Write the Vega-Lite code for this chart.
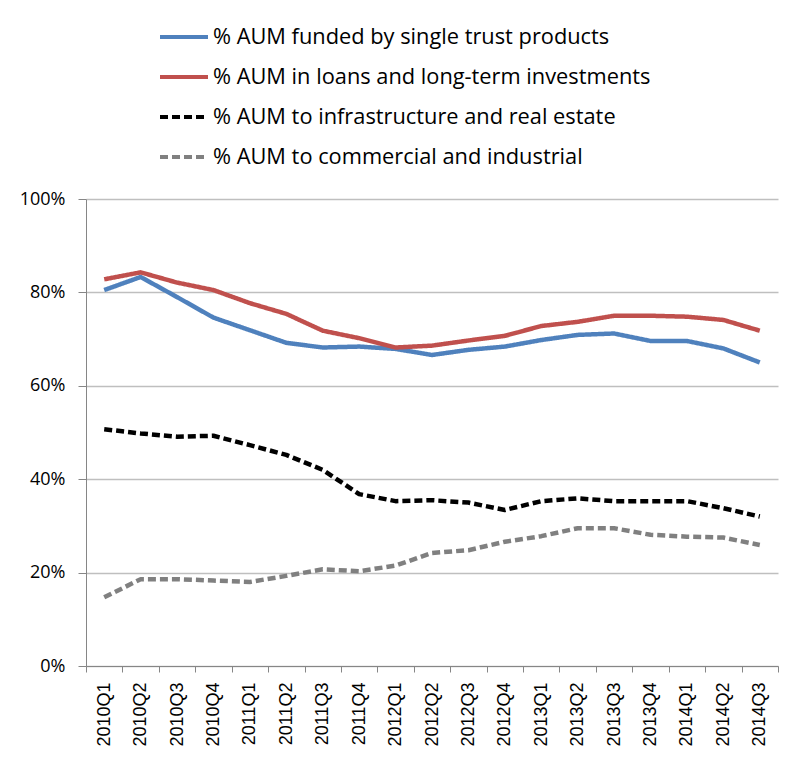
{
  "$schema": "https://vega.github.io/schema/vega-lite/v6.json",
  "autosize": {"type": "none"},
  "padding": {"left": 86, "top": 199, "right": 7, "bottom": 93},
  "width": 692,
  "height": 467,
  "background": "white",
  "data": {
    "values": [
      {"q": "2010Q1", "s": "% AUM funded by single trust products", "v": 80.5},
      {"q": "2010Q2", "s": "% AUM funded by single trust products", "v": 83.3},
      {"q": "2010Q3", "s": "% AUM funded by single trust products", "v": 79.0},
      {"q": "2010Q4", "s": "% AUM funded by single trust products", "v": 74.6},
      {"q": "2011Q1", "s": "% AUM funded by single trust products", "v": 71.9},
      {"q": "2011Q2", "s": "% AUM funded by single trust products", "v": 69.2},
      {"q": "2011Q3", "s": "% AUM funded by single trust products", "v": 68.2},
      {"q": "2011Q4", "s": "% AUM funded by single trust products", "v": 68.4},
      {"q": "2012Q1", "s": "% AUM funded by single trust products", "v": 67.9},
      {"q": "2012Q2", "s": "% AUM funded by single trust products", "v": 66.6},
      {"q": "2012Q3", "s": "% AUM funded by single trust products", "v": 67.7},
      {"q": "2012Q4", "s": "% AUM funded by single trust products", "v": 68.4},
      {"q": "2013Q1", "s": "% AUM funded by single trust products", "v": 69.8},
      {"q": "2013Q2", "s": "% AUM funded by single trust products", "v": 70.9},
      {"q": "2013Q3", "s": "% AUM funded by single trust products", "v": 71.2},
      {"q": "2013Q4", "s": "% AUM funded by single trust products", "v": 69.6},
      {"q": "2014Q1", "s": "% AUM funded by single trust products", "v": 69.6},
      {"q": "2014Q2", "s": "% AUM funded by single trust products", "v": 68.0},
      {"q": "2014Q3", "s": "% AUM funded by single trust products", "v": 65.0},
      {"q": "2010Q1", "s": "% AUM in loans and long-term investments", "v": 82.8},
      {"q": "2010Q2", "s": "% AUM in loans and long-term investments", "v": 84.3},
      {"q": "2010Q3", "s": "% AUM in loans and long-term investments", "v": 82.1},
      {"q": "2010Q4", "s": "% AUM in loans and long-term investments", "v": 80.5},
      {"q": "2011Q1", "s": "% AUM in loans and long-term investments", "v": 77.7},
      {"q": "2011Q2", "s": "% AUM in loans and long-term investments", "v": 75.4},
      {"q": "2011Q3", "s": "% AUM in loans and long-term investments", "v": 71.8},
      {"q": "2011Q4", "s": "% AUM in loans and long-term investments", "v": 70.2},
      {"q": "2012Q1", "s": "% AUM in loans and long-term investments", "v": 68.2},
      {"q": "2012Q2", "s": "% AUM in loans and long-term investments", "v": 68.6},
      {"q": "2012Q3", "s": "% AUM in loans and long-term investments", "v": 69.7},
      {"q": "2012Q4", "s": "% AUM in loans and long-term investments", "v": 70.7},
      {"q": "2013Q1", "s": "% AUM in loans and long-term investments", "v": 72.8},
      {"q": "2013Q2", "s": "% AUM in loans and long-term investments", "v": 73.7},
      {"q": "2013Q3", "s": "% AUM in loans and long-term investments", "v": 75.0},
      {"q": "2013Q4", "s": "% AUM in loans and long-term investments", "v": 75.0},
      {"q": "2014Q1", "s": "% AUM in loans and long-term investments", "v": 74.8},
      {"q": "2014Q2", "s": "% AUM in loans and long-term investments", "v": 74.1},
      {"q": "2014Q3", "s": "% AUM in loans and long-term investments", "v": 71.8},
      {"q": "2010Q1", "s": "% AUM to infrastructure and real estate", "v": 50.7},
      {"q": "2010Q2", "s": "% AUM to infrastructure and real estate", "v": 49.8},
      {"q": "2010Q3", "s": "% AUM to infrastructure and real estate", "v": 49.1},
      {"q": "2010Q4", "s": "% AUM to infrastructure and real estate", "v": 49.3},
      {"q": "2011Q1", "s": "% AUM to infrastructure and real estate", "v": 47.3},
      {"q": "2011Q2", "s": "% AUM to infrastructure and real estate", "v": 45.2},
      {"q": "2011Q3", "s": "% AUM to infrastructure and real estate", "v": 42.0},
      {"q": "2011Q4", "s": "% AUM to infrastructure and real estate", "v": 36.8},
      {"q": "2012Q1", "s": "% AUM to infrastructure and real estate", "v": 35.3},
      {"q": "2012Q2", "s": "% AUM to infrastructure and real estate", "v": 35.5},
      {"q": "2012Q3", "s": "% AUM to infrastructure and real estate", "v": 35.0},
      {"q": "2012Q4", "s": "% AUM to infrastructure and real estate", "v": 33.4},
      {"q": "2013Q1", "s": "% AUM to infrastructure and real estate", "v": 35.3},
      {"q": "2013Q2", "s": "% AUM to infrastructure and real estate", "v": 35.9},
      {"q": "2013Q3", "s": "% AUM to infrastructure and real estate", "v": 35.3},
      {"q": "2013Q4", "s": "% AUM to infrastructure and real estate", "v": 35.3},
      {"q": "2014Q1", "s": "% AUM to infrastructure and real estate", "v": 35.3},
      {"q": "2014Q2", "s": "% AUM to infrastructure and real estate", "v": 33.8},
      {"q": "2014Q3", "s": "% AUM to infrastructure and real estate", "v": 32.0},
      {"q": "2010Q1", "s": "% AUM to commercial and industrial", "v": 14.7},
      {"q": "2010Q2", "s": "% AUM to commercial and industrial", "v": 18.6},
      {"q": "2010Q3", "s": "% AUM to commercial and industrial", "v": 18.6},
      {"q": "2010Q4", "s": "% AUM to commercial and industrial", "v": 18.3},
      {"q": "2011Q1", "s": "% AUM to commercial and industrial", "v": 18.0},
      {"q": "2011Q2", "s": "% AUM to commercial and industrial", "v": 19.3},
      {"q": "2011Q3", "s": "% AUM to commercial and industrial", "v": 20.7},
      {"q": "2011Q4", "s": "% AUM to commercial and industrial", "v": 20.3},
      {"q": "2012Q1", "s": "% AUM to commercial and industrial", "v": 21.5},
      {"q": "2012Q2", "s": "% AUM to commercial and industrial", "v": 24.2},
      {"q": "2012Q3", "s": "% AUM to commercial and industrial", "v": 24.8},
      {"q": "2012Q4", "s": "% AUM to commercial and industrial", "v": 26.6},
      {"q": "2013Q1", "s": "% AUM to commercial and industrial", "v": 27.8},
      {"q": "2013Q2", "s": "% AUM to commercial and industrial", "v": 29.5},
      {"q": "2013Q3", "s": "% AUM to commercial and industrial", "v": 29.5},
      {"q": "2013Q4", "s": "% AUM to commercial and industrial", "v": 28.1},
      {"q": "2014Q1", "s": "% AUM to commercial and industrial", "v": 27.7},
      {"q": "2014Q2", "s": "% AUM to commercial and industrial", "v": 27.5},
      {"q": "2014Q3", "s": "% AUM to commercial and industrial", "v": 25.9}
    ]
  },
  "mark": {"type": "line", "strokeCap": "butt", "strokeJoin": "round"},
  "encoding": {
    "x": {
      "field": "q",
      "type": "ordinal",
      "bandPosition": 0.5,
      "scale": {"type": "band", "paddingInner": 0, "paddingOuter": 0},
      "axis": {
        "title": null,
        "labelAngle": -90,
        "labelFont": "Liberation Sans",
        "labelFontSize": 18,
        "labelColor": "#000000",
        "labelPadding": 10,
        "tickBand": "extent",
        "tickSize": 6,
        "tickColor": "#868686",
        "domainColor": "#868686",
        "grid": false
      }
    },
    "y": {
      "field": "v",
      "type": "quantitative",
      "scale": {"domain": [0, 100], "nice": false},
      "axis": {
        "title": null,
        "values": [0, 20, 40, 60, 80, 100],
        "labelExpr": "datum.value + '%'",
        "labelFont": "Open Sans",
        "labelFontSize": 18,
        "labelColor": "#000000",
        "labelPadding": 13,
        "tickSize": 8,
        "tickColor": "#868686",
        "domainColor": "#868686",
        "gridColor": "#BFBFBF",
        "gridWidth": 1.3
      }
    },
    "color": {
      "field": "s",
      "type": "nominal",
      "sort": null,
      "scale": {
        "domain": ["% AUM funded by single trust products", "% AUM in loans and long-term investments", "% AUM to infrastructure and real estate", "% AUM to commercial and industrial"],
        "range": ["#4F81BD", "#C0504D", "#000000", "#808080"]
      },
      "legend": {
        "title": null,
        "orient": "none",
        "legendX": 72,
        "legendY": -188,
        "symbolType": "stroke",
        "symbolSize": 2304,
        "symbolStrokeWidth": 4,
        "labelFont": "Open Sans",
        "labelFontSize": 21.8,
        "labelColor": "#000000",
        "labelLimit": 0,
        "labelOffset": 3,
        "rowPadding": 2,
        "padding": 0
      }
    },
    "strokeDash": {
      "field": "s",
      "type": "nominal",
      "scale": {
        "domain": ["% AUM funded by single trust products", "% AUM in loans and long-term investments", "% AUM to infrastructure and real estate", "% AUM to commercial and industrial"],
        "range": [[1, 0], [1, 0], [8, 4], [8, 4]]
      }
    },
    "strokeWidth": {"value": 4.5}
  },
  "config": {"view": {"stroke": null}}
}
